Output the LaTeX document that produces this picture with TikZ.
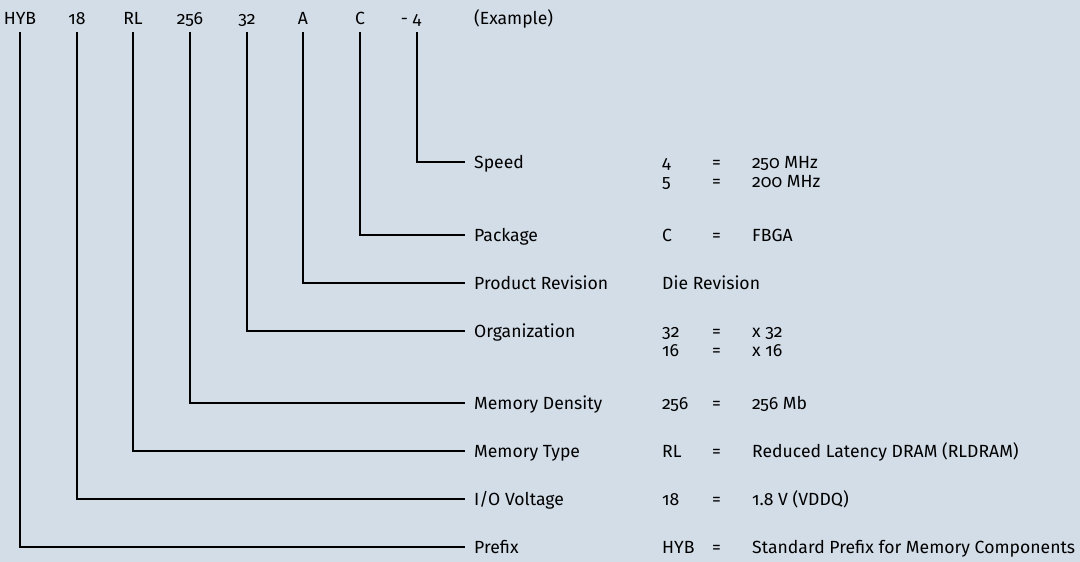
\documentclass[tikz,border=0pt]{standalone}
\usepackage{fontspec}
\setmainfont{Fira Sans}[Numbers=OldStyle]
\usetikzlibrary{positioning}
\definecolor{bgblue}{RGB}{211,221,232}
\tikzset{
  code/.style={inner sep=0pt, text depth=8pt, anchor=base},
  field/.style={inner xsep=9pt, inner ysep=0pt, text height=14pt, text depth=1pt, anchor=west},
  entry/.style={inner sep=0pt, anchor=base west},
  lead/.style={line width=1.3pt},
}

\begin{document}
\begin{tikzpicture}[x=1pt, y=-1pt, font=\fontsize{17.6}{20}\selectfont]
        \fill[bgblue] (0,0) rectangle (1080,562);
        % part number
        \node[code] (hyb) at (20,24) {HYB};
        \node[code] (volt) at (77,24) {18};
        \node[code] (type) at (133,24) {RL};
        \node[code] (dens) at (190,24) {256};
        \node[code] (org) at (247,24) {32};
        \node[code] (rev) at (303,24) {A};
        \node[code] (pkg) at (360,24) {C};
        \node[code] (spd) at (417,24) {\llap{- }4};
        \node[entry] (example) at (474,24) {(Example)};
        % fields
        \node[field] (speed) at (465,162) {Speed};
        \node[field] (package) at (465,235) {Package};
        \node[field] (revision) at (465,283) {Product Revision};
        \node[field] (organization) at (465,331) {Organization};
        \node[field] (density) at (465,403) {Memory Density};
        \node[field] (memtype) at (465,451) {Memory Type};
        \node[field] (voltage) at (465,499) {I/O Voltage};
        \node[field] (prefix) at (465,547) {Prefix};
        % leads
        \draw[lead] (spd.south) |- (speed.west);
        \draw[lead] (pkg.south) |- (package.west);
        \draw[lead] (rev.south) |- (revision.west);
        \draw[lead] (org.south) |- (organization.west);
        \draw[lead] (dens.south) |- (density.west);
        \draw[lead] (type.south) |- (memtype.west);
        \draw[lead] (volt.south) |- (voltage.west);
        \draw[lead] (hyb.south) |- (prefix.west);
        % values
        \node[entry] (s4) at (662,168) {4};
        \node[entry] (s4eq) at (712,168) {=};
        \node[entry] (s4v) at (752,168) {250 MHz};
        \node[entry] (s5) at (662,187) {5};
        \node[entry] (s5eq) at (712,187) {=};
        \node[entry] (s5v) at (752,187) {200 MHz};
        \node[entry] (pc) at (662,241) {C};
        \node[entry] (pceq) at (712,241) {=};
        \node[entry] (pcv) at (752,241) {FBGA};
        \node[entry] (die) at (662,289) {Die Revision};
        \node[entry] (o32) at (662,337) {32};
        \node[entry] (o32eq) at (712,337) {=};
        \node[entry] (o32v) at (752,337) {x 32};
        \node[entry] (o16) at (662,356) {16};
        \node[entry] (o16eq) at (712,356) {=};
        \node[entry] (o16v) at (752,356) {x 16};
        \node[entry] (d256) at (662,409) {256};
        \node[entry] (d256eq) at (712,409) {=};
        \node[entry] (d256v) at (752,409) {256 Mb};
        \node[entry] (trl) at (662,457) {RL};
        \node[entry] (trleq) at (712,457) {=};
        \node[entry] (trlv) at (752,457) {Reduced Latency DRAM (RLDRAM)};
        \node[entry] (v18) at (662,505) {18};
        \node[entry] (v18eq) at (712,505) {=};
        \node[entry] (v18v) at (752,505) {1.8 V (VDDQ)};
        \node[entry] (phyb) at (662,553) {HYB};
        \node[entry] (phybeq) at (712,553) {=};
        \node[entry] (phybv) at (752,553) {Standard Prefix for Memory Components};
\end{tikzpicture}
\end{document}
